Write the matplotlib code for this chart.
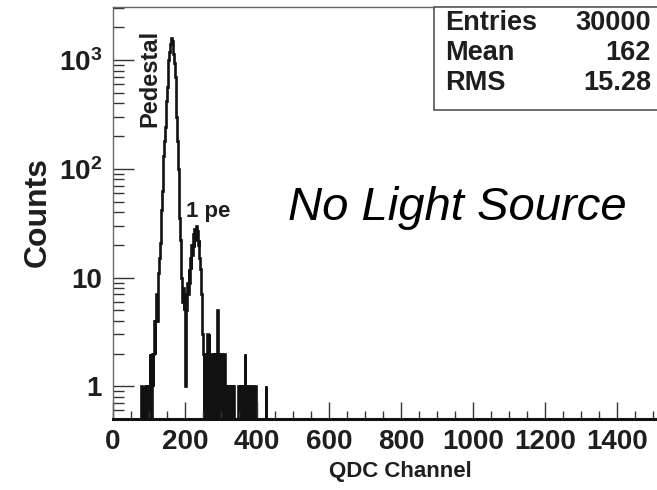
import numpy as np
import matplotlib.pyplot as plt
from matplotlib.patches import Rectangle

plt.rcParams['font.family'] = ['Liberation Sans', 'DejaVu Sans']
plt.rcParams['mathtext.fontset'] = 'custom'
plt.rcParams['mathtext.rm'] = 'Liberation Sans:bold'
plt.rcParams['mathtext.bf'] = 'Liberation Sans:bold'

## histogram data, bins of 2 QDC channels starting at channel 76
bin_start = 76
bin_width = 2
counts = [
    0, 1, 0, 1, 0, 0, 0, 1, 0, 1,                       # 76-94
    0, 1, 0, 2, 1, 0, 2, 1, 2, 4,                       # 96-114
    2, 4, 7, 4, 9, 11, 15, 21, 30, 42,                  # 116-134
    62, 95, 130, 180, 240, 320, 420, 560, 750, 1000,    # 136-154
    1200, 1400, 1580, 1600, 1500, 1350, 1150, 950, 700, 480,  # 156-174
    300, 180, 100, 60, 35, 22, 14, 10, 6, 8,            # 176-194
    5, 7, 1, 7, 5, 9, 7, 12, 9, 15,                     # 196-214
    12, 20, 16, 25, 19, 28, 22, 30, 24, 27,             # 216-234
    20, 22, 15, 12, 7, 5, 3, 2, 0, 2,                   # 236-254
    1, 0, 2, 3, 0, 3, 1, 0, 2, 2,                       # 256-274
    0, 2, 1, 0, 2, 0, 0, 5, 0, 2,                       # 276-294
    1, 0, 2, 2, 0, 1, 2, 0, 1, 1,                       # 296-314
    0, 1, 1, 0, 1, 1, 0, 1, 0, 1,                       # 316-334
    0, 0, 0, 0, 0, 0, 1, 0, 1, 1,                       # 336-354
    0, 1, 0, 1, 0, 2, 1, 0, 1, 1,                       # 356-374
    0, 1, 1, 0, 0, 1, 0, 0, 0, 1,                       # 376-394
    0, 0, 0, 0, 0, 0, 0, 0, 0, 0,                       # 396-414
    0, 0, 0, 0, 1, 0, 0,                                # 416-428
]

x_ticks = [0, 200, 400, 600, 800, 1000, 1200, 1400]
y_ticks = [1, 10, 100, 1000]
y_labels = ['1', '10', r'$\mathbf{10^{2}}$', r'$\mathbf{10^{3}}$']

stats_names = ['Entries', 'Mean', 'RMS']
stats_values = ['30000', '162', '15.28']

counts = np.array(counts, dtype=float)
edges = bin_start + bin_width * np.arange(len(counts) + 1)
plot_counts = np.where(counts > 0, counts, 0.01)   # zero bins drop below the frame

W, H = 657, 490
fig = plt.figure(figsize=(W / 100, H / 100), dpi=100)
ax = fig.add_axes([113 / W, 71 / H, 1 - 113 / W, 412 / H])

ax.stairs(plot_counts, edges, baseline=None, color='#111111', lw=1.9)

ax.set_yscale('log')
ax.set_xlim(0, 1511)
ax.set_ylim(0.5, 3080)

txtc = '#1e1e1e'
ax.set_xticks(x_ticks)
ax.set_xticklabels([str(v) for v in x_ticks], fontsize=20, fontweight='bold', color=txtc)
ax.set_xticks(np.arange(50, 1511, 50), minor=True)
ax.set_yticks(y_ticks)
ax.set_yticklabels(y_labels, fontsize=20, fontweight='bold', color=txtc)
ax.tick_params(which='major', direction='in', length=12, width=1.0, color='#333333')
ax.tick_params(which='minor', direction='in', length=6, width=1.0, color='#333333')
ax.tick_params(axis='y', which='major', length=15, pad=8)
ax.tick_params(axis='y', which='minor', length=8)
ax.tick_params(axis='x', which='major', pad=7)

for s in ['top', 'left']:
    ax.spines[s].set_color('#666666')
    ax.spines[s].set_linewidth(1.0)
ax.spines['right'].set_visible(False)
ax.spines['bottom'].set_color('#111111')
ax.spines['bottom'].set_linewidth(2.2)

fig.text(400 / W, 1 - 471 / H, 'QDC Channel', fontsize=16, fontweight='bold',
         color=txtc, ha='center', va='center')
fig.text(38 / W, 1 - 212 / H, 'Counts', fontsize=23, fontweight='bold',
         color=txtc, ha='center', va='center', rotation=90)

## annotations
fig.text(150 / W, 1 - 78 / H, 'Pedestal', fontsize=17, fontweight='bold',
         color=txtc, ha='center', va='center', rotation=90)
fig.text(208 / W, 1 - 211 / H, '1 pe', fontsize=16, fontweight='bold',
         color=txtc, ha='center', va='center')
fig.text(457 / W, 1 - 208 / H, 'No Light Source', fontsize=34, style='italic',
         color='black', ha='center', va='center')

## stats box
box = Rectangle((434 / W, 1 - 110 / H), 1.0, 103 / H, transform=fig.transFigure,
                facecolor='white', edgecolor='#555555', lw=1.2, zorder=5)
fig.patches.append(box)
for i, (nm, val) in enumerate(zip(stats_names, stats_values)):
    yy = 1 - (23 + 30 * i) / H
    fig.text(445 / W, yy, nm, fontsize=19.5, fontweight='bold', color=txtc,
             ha='left', va='center', zorder=6)
    fig.text(651 / W, yy, val, fontsize=19.5, fontweight='bold', color=txtc,
             ha='right', va='center', zorder=6)

fig.savefig('out.png', dpi=100)
